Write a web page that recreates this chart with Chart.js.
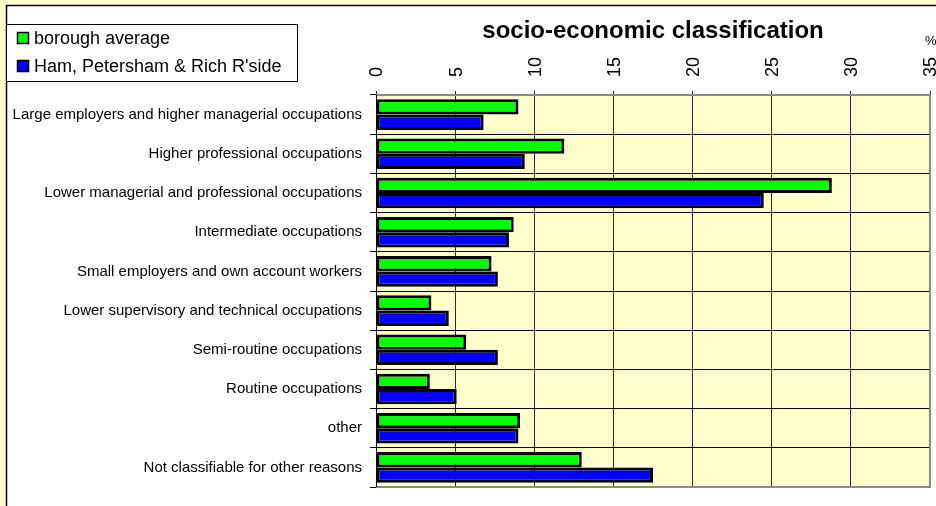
<!DOCTYPE html>
<html>
<head>
<meta charset="utf-8">
<script src="https://cdn.jsdelivr.net/npm/chart.js@4/dist/chart.umd.min.js"></script>
<style>
  html, body { margin: 0; padding: 0; background: #FFFFCC; }
  canvas { display: block; }
</style>
</head>
<body>
<canvas id="c" width="936" height="506" style="width:936px;height:506px"></canvas>
<script>
const categories = [
  "Large employers and higher managerial occupations",
  "Higher professional occupations",
  "Lower managerial and professional occupations",
  "Intermediate occupations",
  "Small employers and own account workers",
  "Lower supervisory and technical occupations",
  "Semi-routine occupations",
  "Routine occupations",
  "other",
  "Not classifiable for other reasons"
];
const boroughAverage = [9.0, 11.9, 28.8, 8.7, 7.3, 3.5, 5.7, 3.4, 9.1, 13.0];
const hamPetersham  = [6.8, 9.4, 24.5, 8.4, 7.7, 4.6, 7.7, 5.1, 9.0, 17.5];
const seriesNames = ["borough average", "Ham, Petersham & Rich R'side"];
const xTickValues = [0, 5, 10, 15, 20, 25, 30, 35];
const chartTitle = "socio-economic classification";
const unitLabel = "%";

const FONT = "'Liberation Sans', Arial, sans-serif";
const CREAM = '#FFFFCC';
const GREEN = '#00FF00';
const BLUE = '#0000FF';

const framePlugin = {
  id: 'frame',
  beforeDraw(chart) {
    const ctx = chart.ctx;
    const W = chart.width, H = chart.height;
    ctx.save();
    ctx.fillStyle = CREAM;
    ctx.fillRect(0, 0, W, H);
    ctx.fillStyle = '#FFFFFF';
    ctx.fillRect(6, 5, W - 6, H - 5);
    ctx.strokeStyle = '#000';
    ctx.lineWidth = 1.5;
    ctx.beginPath();
    ctx.moveTo(6.5, H);
    ctx.lineTo(6.5, 5.5);
    ctx.lineTo(W, 5.5);
    ctx.stroke();
    const a = chart.chartArea;
    ctx.fillStyle = CREAM;
    ctx.fillRect(a.left, a.top, a.right - a.left, a.bottom - a.top);
    ctx.restore();
  },
  afterDraw(chart) {
    const ctx = chart.ctx;
    const a = chart.chartArea;
    ctx.save();
    // plot border (grey right/bottom/top)
    ctx.strokeStyle = '#8a8a8a';
    ctx.lineWidth = 2;
    ctx.beginPath();
    ctx.moveTo(a.left, a.top);
    ctx.lineTo(a.right, a.top);
    ctx.lineTo(a.right, a.bottom);
    ctx.lineTo(a.left, a.bottom);
    ctx.stroke();
    ctx.strokeStyle = '#000';
    ctx.lineWidth = 1;
    ctx.beginPath();
    ctx.moveTo(a.left + 0.5, a.top);
    ctx.lineTo(a.left + 0.5, a.bottom);
    ctx.stroke();

    // title
    ctx.fillStyle = '#000';
    ctx.font = 'bold 24px ' + FONT;
    ctx.textAlign = 'center';
    ctx.textBaseline = 'middle';
    ctx.fillText(chartTitle, (a.left + a.right) / 2, 31);

    // unit
    ctx.font = '13px ' + FONT;
    ctx.textAlign = 'left';
    ctx.fillText(unitLabel, 925, 41);

    // legend
    ctx.fillStyle = '#FFFFFF';
    ctx.fillRect(6.5, 24.5, 291, 57);
    ctx.strokeStyle = '#000';
    ctx.lineWidth = 1;
    ctx.strokeRect(6.5, 24.5, 291, 57);
    const items = chart.data.datasets;
    const ys = [38, 66];
    items.forEach((ds, i) => {
      const y = ys[i];
      ctx.fillStyle = ds.backgroundColor;
      ctx.fillRect(17.5, y - 5.5, 11, 11);
      ctx.strokeStyle = '#000';
      ctx.lineWidth = 1.5;
      ctx.strokeRect(17.5, y - 5.5, 11, 11);
      ctx.fillStyle = '#000';
      ctx.font = '18px ' + FONT;
      ctx.textAlign = 'left';
      ctx.textBaseline = 'middle';
      ctx.fillText(ds.label, 34, y + 1);
    });
    ctx.restore();
  }
};

new Chart(document.getElementById('c'), {
  type: 'bar',
  data: {
    labels: categories,
    datasets: [
      {
        label: seriesNames[0],
        data: boroughAverage,
        backgroundColor: GREEN,
        borderColor: '#000',
        borderWidth: 3,
        borderSkipped: false,
        categoryPercentage: 0.78,
        barPercentage: 1.0
      },
      {
        label: seriesNames[1],
        data: hamPetersham,
        backgroundColor: BLUE,
        borderColor: '#000',
        borderWidth: 3,
        borderSkipped: false,
        categoryPercentage: 0.78,
        barPercentage: 1.0
      }
    ]
  },
  options: {
    indexAxis: 'y',
    responsive: false,
    animation: false,
    devicePixelRatio: 1,
    layout: { padding: { left: 0, right: 6, top: 0, bottom: 19 } },
    plugins: {
      legend: { display: false },
      title: { display: false },
      tooltip: { enabled: false }
    },
    scales: {
      x: {
        position: 'top',
        min: 0,
        max: 35,
        afterBuildTicks(scale) {
          scale.ticks = xTickValues.map(v => ({ value: v }));
        },
        afterFit(scale) {
          scale.height = 95;
          scale.paddingLeft = 0;
          scale.paddingRight = 0;
        },
        ticks: {
          minRotation: 90,
          maxRotation: 90,
          autoSkip: false,
          padding: 14,
          labelOffset: 23,
          color: '#000',
          font: { family: FONT, size: 18 }
        },
        grid: {
          color: '#2a2a2a',
          lineWidth: 1,
          tickLength: 4,
          drawTicks: true
        },
        border: { display: false }
      },
      y: {
        position: 'left',
        afterFit(scale) {
          scale.width = 376;
          scale.paddingTop = 0;
          scale.paddingBottom = 0;
        },
        ticks: {
          autoSkip: false,
          padding: 8,
          color: '#000',
          font: { family: FONT, size: 15 }
        },
        grid: {
          color: '#000',
          lineWidth: 1,
          offset: true,
          tickLength: 6
        },
        border: { display: false }
      }
    }
  },
  plugins: [framePlugin]
});
</script>
</body>
</html>
